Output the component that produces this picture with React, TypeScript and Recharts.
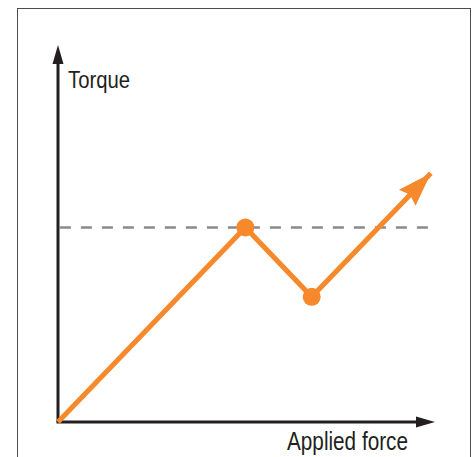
import React from "react";
import { LineChart, Line, XAxis, YAxis, ReferenceLine } from "recharts";

// Data (normalized units on 0..100 scales)
const forces = [0, 49.7, 67.3, 98.9];
const torques = [0, 51.6, 33.2, 66.0];
const markedPoints = [false, true, true, false];
const thresholdTorque = 51.6;
const xLabel = "Applied force";
const yLabel = "Torque";

const data = forces.map((f, i) => ({ force: f, torque: torques[i], marked: markedPoints[i] }));

const ORANGE = "#F6892B";
const AXIS = "#231F20";
const FONT = "'Liberation Sans', Arial, sans-serif";

const YAxisShape = (p: any) => {
  const { x1, y1, y2 } = p;
  const tipY = Math.min(y1, y2);
  const baseY = Math.max(y1, y2);
  return (
    <g>
      <line x1={x1} y1={baseY} x2={x1} y2={tipY + 14} stroke={AXIS} strokeWidth={3} />
      <polygon points={`${x1},${tipY} ${x1 - 5.5},${tipY + 19} ${x1 + 5.5},${tipY + 19}`} fill={AXIS} />
      <text x={x1 + 10} y={88} fontFamily={FONT} fontSize={24} fill="#231F20" textLength={62} lengthAdjust="spacingAndGlyphs">{yLabel}</text>
    </g>
  );
};

const XAxisShape = (p: any) => {
  const { x1, y1, x2 } = p;
  const tipX = Math.max(x1, x2);
  const baseX = Math.min(x1, x2);
  return (
    <g>
      <line x1={baseX - 1.5} y1={y1} x2={tipX - 14} y2={y1} stroke={AXIS} strokeWidth={3} />
      <polygon points={`${tipX},${y1} ${tipX - 19},${y1 - 5.5} ${tipX - 19},${y1 + 5.5}`} fill={AXIS} />
      <text x={tipX - 148} y={450} fontFamily={FONT} fontSize={25} fill="#231F20" textLength={121} lengthAdjust="spacingAndGlyphs">{xLabel}</text>
    </g>
  );
};

const ArrowHeadShape = (p: any) => {
  const { x1, y1, x2, y2 } = p;
  const dx = x2 - x1;
  const dy = y2 - y1;
  const len = Math.sqrt(dx * dx + dy * dy) || 1;
  const ux = dx / len;
  const uy = dy / len;
  const nx = -uy;
  const ny = ux;
  const L = 34;
  const W = 11.5;
  const N = 30;
  const bx = x2 - ux * L;
  const by = y2 - uy * L;
  const pts = [
    [x2, y2],
    [bx + nx * W, by + ny * W],
    [x2 - ux * N, y2 - uy * N],
    [bx - nx * W, by - ny * W],
  ];
  return <polygon points={pts.map((q) => q.join(",")).join(" ")} fill={ORANGE} />;
};

const renderDot = (props: any) => {
  const { cx, cy, payload, index } = props;
  if (!payload || !payload.marked) return <g key={`d${index}`} />;
  return <circle key={`d${index}`} cx={cx} cy={cy} r={9} fill={ORANGE} />;
};

export default function App() {
  const last = data.length - 1;
  return (
    <div style={{ position: "absolute", left: 0, top: 0, width: 476, height: 457, background: "#fff", overflow: "hidden" }}>
      <div
        style={{
          position: "absolute",
          left: 17,
          top: 8,
          width: 454,
          height: 470,
          border: "1.5px solid #4d4d4d",
          boxSizing: "border-box",
        }}
      />
      <div style={{ position: "absolute", left: 0, top: 0 }}>
        <LineChart width={476} height={457} data={data} margin={{ top: 45, right: 41, bottom: 35, left: 58 }}>
          <XAxis dataKey="force" type="number" domain={[0, 100]} hide />
          <YAxis type="number" domain={[0, 100]} hide />
          <ReferenceLine
            segment={[{ x: 0.5, y: thresholdTorque }, { x: 100.3, y: thresholdTorque }]}
            stroke="#8a8a8a"
            strokeWidth={2.5}
            strokeDasharray="11 10"
            ifOverflow="visible"
          />
          <ReferenceLine
            segment={[{ x: 0, y: 0 }, { x: 0, y: 100 }]}
            shape={YAxisShape}
            ifOverflow="visible"
          />
          <ReferenceLine
            segment={[{ x: 0, y: 0 }, { x: 100, y: 0 }]}
            shape={XAxisShape}
            ifOverflow="visible"
          />
          <Line
            dataKey="torque"
            type="linear"
            stroke={ORANGE}
            strokeWidth={5}
            dot={renderDot}
            activeDot={false}
            isAnimationActive={false}
          />
          <ReferenceLine
            segment={[
              { x: data[last - 1].force, y: data[last - 1].torque },
              { x: data[last].force, y: data[last].torque },
            ]}
            shape={ArrowHeadShape}
            ifOverflow="visible"
          />
        </LineChart>
      </div>
    </div>
  );
}
